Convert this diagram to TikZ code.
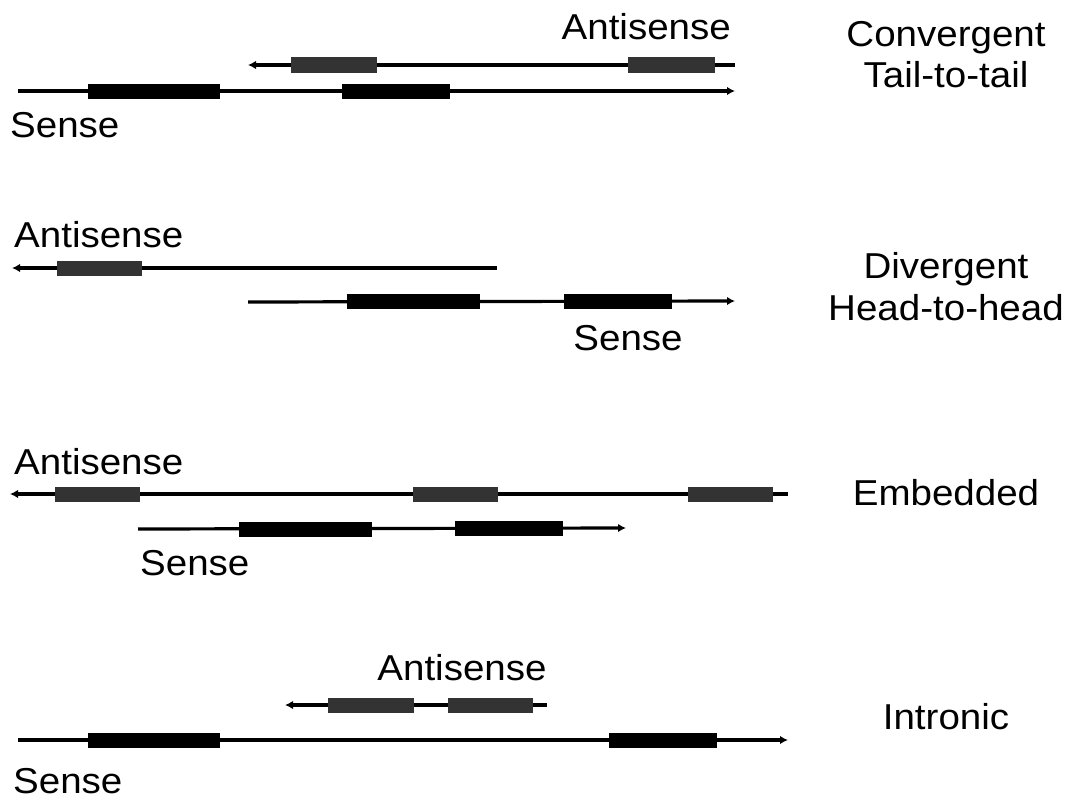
\documentclass[tikz,border=0pt]{standalone}
\usepackage{fontspec}
\setmainfont{Liberation Sans}[FakeStretch=1.07]
\usetikzlibrary{arrows.meta}
\begin{document}
\begin{tikzpicture}[x=1pt,y=-1pt,
  strand/.style={line width=3.2pt,black},
  tip/.style={-{Latex[length=8pt,width=8.5pt]}},
  exonsense/.style={fill=black,draw=none,inner sep=0pt,minimum height=15pt},
  exonanti/.style={fill=black!80,draw=none,inner sep=0pt,minimum height=15pt},
  lbl/.style={font=\fontsize{36}{40}\selectfont,inner sep=0pt},
]
\useasboundingbox (0,0) rectangle (1070,800);
\fill[white] (0,0) rectangle (1070,800);

% ---------- Panel 1: Convergent ----------
\coordinate (a1s) at (735,65); \coordinate (a1e) at (248,65);
\draw[strand,tip] (a1s) -- (a1e);
\node[exonanti,minimum width=86pt] (a1x1) at (334,65) {};
\node[exonanti,minimum width=87pt] (a1x2) at (671.5,65) {};
\coordinate (s1s) at (18,91); \coordinate (s1e) at (735,91);
\draw[strand,tip] (s1s) -- (s1e);
\node[exonsense,minimum width=132pt] (s1x1) at (154,91) {};
\node[exonsense,minimum width=108pt] (s1x2) at (396,91) {};
\node[lbl,anchor=base east] (a1l) at (731,40) {Antisense};
\node[lbl,anchor=base west] (s1l) at (10,137) {Sense};
\node[lbl,anchor=base] (c1) at (946,47) {Convergent};
\node[lbl,anchor=base] (c2) at (946,87) {Tail-to-tail};

% ---------- Panel 2: Divergent ----------
\coordinate (a2s) at (497,268); \coordinate (a2e) at (12,268);
\draw[strand,tip] (a2s) -- (a2e);
\node[exonanti,minimum width=85pt] (a2x1) at (99.5,268) {};
\coordinate (s2s) at (248,302); \coordinate (s2e) at (735,301);
\draw[strand,tip] (s2s) -- (s2e);
\node[exonsense,minimum width=133pt] (s2x1) at (413.5,301) {};
\node[exonsense,minimum width=108pt] (s2x2) at (618,301) {};
\node[lbl,anchor=base west] (a2l) at (14,247) {Antisense};
\node[lbl,anchor=base] (s2l) at (628,350) {Sense};
\node[lbl,anchor=base] (d1) at (946,278) {Divergent};
\node[lbl,anchor=base] (d2) at (946,320) {Head-to-head};

% ---------- Panel 3: Embedded ----------
\coordinate (a3s) at (788,494); \coordinate (a3e) at (10,494);
\draw[strand,tip] (a3s) -- (a3e);
\node[exonanti,minimum width=85pt] (a3x1) at (97.5,494) {};
\node[exonanti,minimum width=85pt] (a3x2) at (455.5,494) {};
\node[exonanti,minimum width=85pt] (a3x3) at (730.5,494) {};
\coordinate (s3s) at (138,529); \coordinate (s3e) at (626,528);
\draw[strand,tip] (s3s) -- (s3e);
\node[exonsense,minimum width=133pt] (s3x1) at (305.5,529) {};
\node[exonsense,minimum width=108pt] (s3x2) at (509,528) {};
\node[lbl,anchor=base west] (a3l) at (14,474) {Antisense};
\node[lbl,anchor=base west] (s3l) at (140,575) {Sense};
\node[lbl,anchor=base] (e1) at (946,505) {Embedded};

% ---------- Panel 4: Intronic ----------
\coordinate (a4s) at (547,705); \coordinate (a4e) at (285,705);
\draw[strand,tip] (a4s) -- (a4e);
\node[exonanti,minimum width=86pt] (a4x1) at (371,705) {};
\node[exonanti,minimum width=85pt] (a4x2) at (490.5,705) {};
\coordinate (s4s) at (18,740); \coordinate (s4e) at (788,740);
\draw[strand,tip] (s4s) -- (s4e);
\node[exonsense,minimum width=132pt] (s4x1) at (154,740) {};
\node[exonsense,minimum width=108pt] (s4x2) at (663,740) {};
\node[lbl,anchor=base] (a4l) at (462,680) {Antisense};
\node[lbl,anchor=base west] (s4l) at (13,793) {Sense};
\node[lbl,anchor=base] (i1) at (946,729) {Intronic};
\end{tikzpicture}
\end{document}
